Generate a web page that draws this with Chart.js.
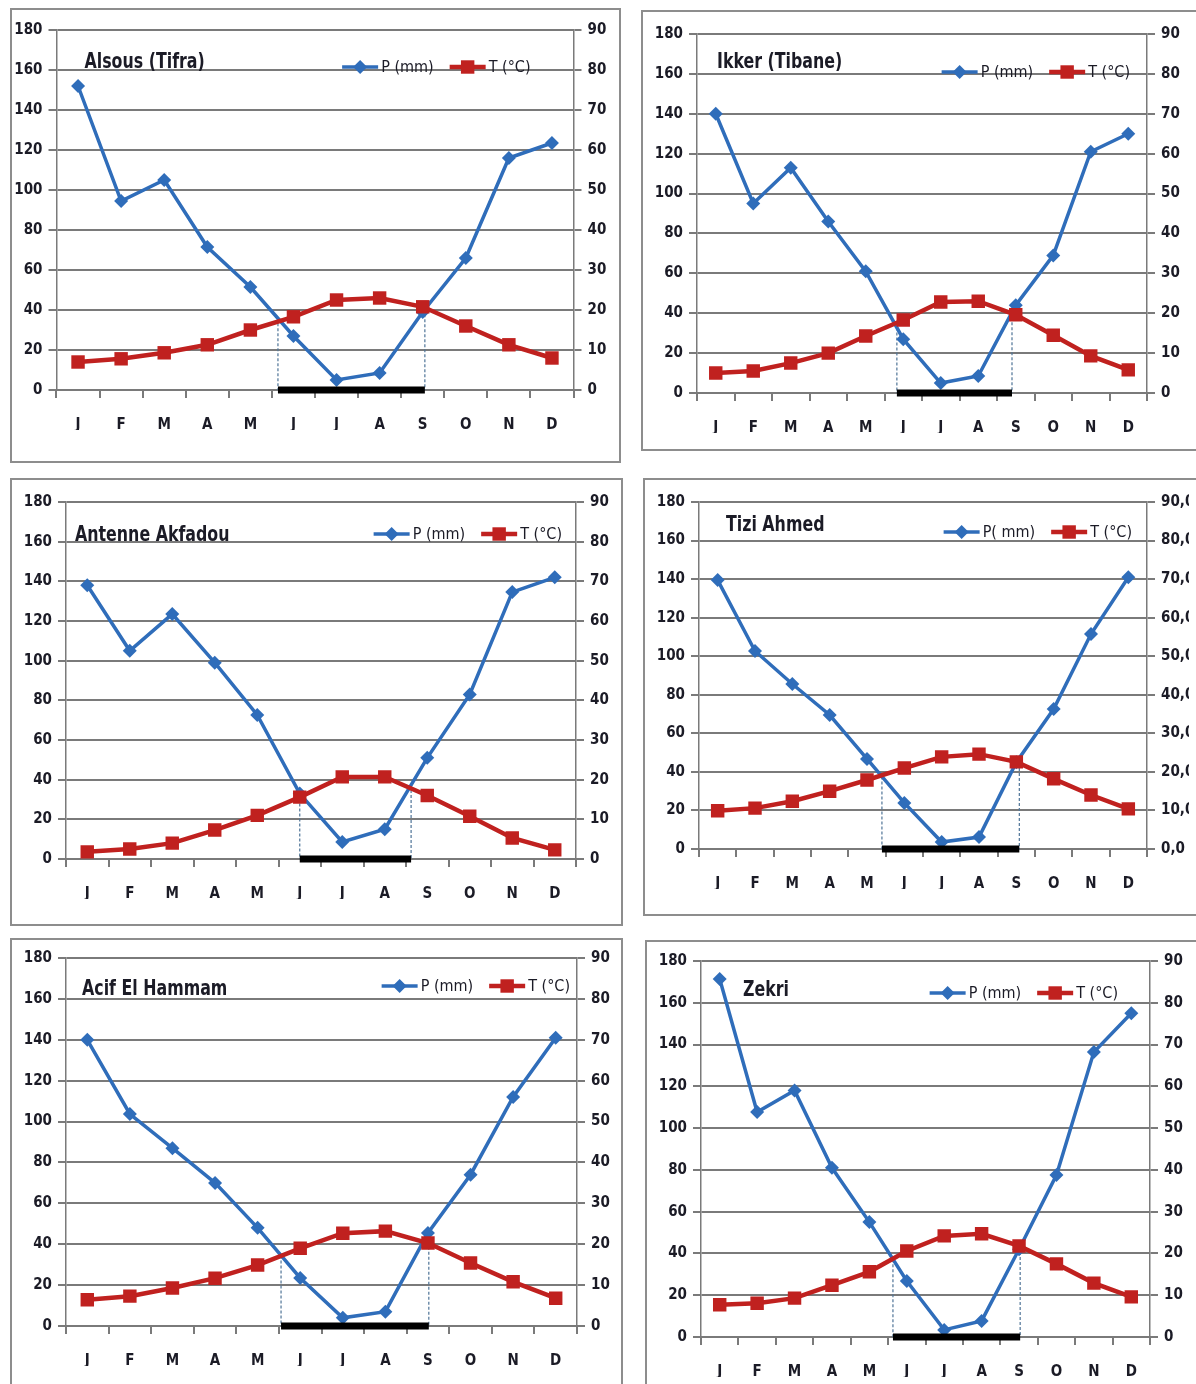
<!DOCTYPE html>
<html>
<head>
<meta charset="utf-8">
<script src="https://cdn.jsdelivr.net/npm/chart.js@4.4.1/dist/chart.umd.min.js"></script>
<style>
  body { margin: 0; background: #fff; width: 1196px; height: 1384px; overflow: hidden; position: relative; }
  .panel { position: absolute; box-sizing: border-box; border: 2px solid #8d8d8d; background: #fff; }
  .panel canvas { display: block; }
</style>
</head>
<body>
<div class="panel" id="panel0"><canvas id="chart0"></canvas></div>
<div class="panel" id="panel1"><canvas id="chart1"></canvas></div>
<div class="panel" id="panel2"><canvas id="chart2"></canvas></div>
<div class="panel" id="panel3"><canvas id="chart3"></canvas></div>
<div class="panel" id="panel4"><canvas id="chart4"></canvas></div>
<div class="panel" id="panel5"><canvas id="chart5"></canvas></div>
<script>
// months and station names
const months = ['J', 'F', 'M', 'A', 'M', 'J', 'J', 'A', 'S', 'O', 'N', 'D'];
const stations = ['Alsous (Tifra)', 'Ikker (Tibane)', 'Antenne Akfadou', 'Tizi Ahmed', 'Acif El Hammam', 'Zekri'];
const p_labels = ['P (mm)', 'P (mm)', 'P (mm)', 'P( mm)', 'P (mm)', 'P (mm)'];
const t_labels = ['T (°C)', 'T (°C)', 'T (°C)', 'T (°C)', 'T (°C)', 'T (°C)'];

// precipitation (mm) and temperature (°C) per station
const p_alsous = [152, 94.5, 105, 71.5, 51.5, 27, 5, 8.5, 39, 66, 116, 123.5];
const t_alsous = [7, 7.8, 9.3, 11.3, 15, 18.3, 22.5, 23, 20.8, 16, 11.3, 8];
const p_ikker = [140, 95, 113, 86, 61, 27, 5, 8.5, 44, 69, 121, 130];
const t_ikker = [5, 5.5, 7.5, 10, 14.3, 18.3, 22.8, 23, 19.6, 14.5, 9.3, 5.8];
const p_akfadou = [138, 105, 123.5, 99, 72.6, 33, 8.6, 15, 51, 83, 134.6, 142];
const t_akfadou = [1.8, 2.5, 4, 7.3, 11, 15.6, 20.7, 20.7, 16, 10.8, 5.3, 2.3];
const p_tizi = [139.5, 102.7, 85.6, 69.5, 46.7, 23.9, 3.6, 6.2, 45, 72.6, 111.5, 141];
const t_tizi = [9.9, 10.6, 12.4, 15, 17.9, 21, 23.9, 24.6, 22.6, 18.2, 14, 10.4];
const p_acif = [140, 103.7, 87, 70, 48, 23.5, 4, 7, 45.5, 74, 112, 141];
const t_acif = [6.4, 7.3, 9.3, 11.7, 14.9, 19, 22.7, 23.2, 20.3, 15.4, 10.8, 6.8];
const p_zekri = [171.4, 107.7, 118, 81, 55, 26.8, 3.4, 7.7, 42, 77.5, 136.4, 155];
const t_zekri = [7.7, 8.1, 9.3, 12.4, 15.6, 20.6, 24.2, 24.7, 21.8, 17.5, 12.9, 9.6];

// dry period, in month index units (J = 0)
const dry_start = [4.64, 4.83, 5.0, 4.4, 4.55, 4.63];
const dry_end = [8.05, 7.9, 7.62, 8.08, 8.02, 8.03];

// axis ranges
const p_max = 180, p_step = 20;
const t_max = 90, t_step = 10;

const p_series = [p_alsous, p_ikker, p_akfadou, p_tizi, p_acif, p_zekri];
const t_series = [t_alsous, t_ikker, t_akfadou, t_tizi, t_acif, t_zekri];
const right_decimals = [0, 0, 0, 1, 0, 0];

// layout: frame [x, y, w, h], plot [left, top, right, bottom] in page px,
// title [dx, dy] from plot top-left, legend [right margin, dy]
const panels = [
  { frame: [10, 8, 611, 455], plot: [56.5, 30, 573.5, 390], title: [28, 32], legend: [43, 37] },
  { frame: [641, 10, 560, 441], plot: [697, 34, 1147, 393], title: [20, 28], legend: [17, 38] },
  { frame: [10, 478, 613, 448], plot: [66, 502, 576, 859], title: [9, 33], legend: [14, 32] },
  { frame: [643, 478, 560, 438], plot: [699, 502, 1147, 849], title: [27, 23], legend: [15, 30] },
  { frame: [10, 938, 613, 460], plot: [66, 958, 577, 1326], title: [16, 31], legend: [7, 28] },
  { frame: [645, 940, 560, 460], plot: [701, 961, 1150, 1337], title: [42, 29], legend: [32, 32] }
];

const FONT = "'DejaVu Sans Condensed', 'Liberation Sans Narrow', sans-serif";
const BLUE = '#2f6dba';
const RED = '#c0211f';
const GRID = '#7a7a7a';
const TEXT = '#1b1b26';
const AXIS_W = 42, AXIS_H = 40;

// value of a monthly series at a fractional month index
const interp = (arr, x) => {
  const i = Math.floor(x), j = Math.min(i + 1, arr.length - 1);
  return arr[i] + (arr[j] - arr[i]) * (x - i);
};

const station_title = {
  id: 'station_title',
  afterDraw(chart, args, opts) {
    const { ctx, chartArea } = chart;
    ctx.save();
    ctx.translate(chartArea.left + opts.dx, chartArea.top + opts.dy);
    ctx.scale(0.8, 1); // narrow, like the Calibri of the original
    ctx.font = 'bold 22px ' + FONT;
    ctx.fillStyle = TEXT;
    ctx.textBaseline = 'middle';
    ctx.textAlign = 'left';
    ctx.fillText(opts.text, 0, 0);
    ctx.restore();
  }
};

// Excel style legend (line + marker) inside the plot area, built from datasets
const inside_legend = {
  id: 'inside_legend',
  afterDraw(chart, args, opts) {
    const { ctx, chartArea } = chart;
    const items = chart.data.datasets.filter(ds => ds.legend_item);
    const line_len = 36, gap_text = 3, gap_item = 16;
    ctx.save();
    ctx.font = '16px ' + FONT;
    const widths = items.map(ds => line_len + gap_text + ctx.measureText(ds.label).width);
    const total = widths.reduce((a, b) => a + b, 0) + gap_item * (items.length - 1);
    let x = chartArea.right - opts.right - total;
    const y = chartArea.top + opts.dy;
    items.forEach((ds, i) => {
      ctx.strokeStyle = ds.borderColor;
      ctx.lineWidth = ds.borderWidth;
      ctx.beginPath();
      ctx.moveTo(x, y);
      ctx.lineTo(x + line_len, y);
      ctx.stroke();
      ctx.fillStyle = ds.borderColor;
      const cx = x + line_len / 2;
      ctx.beginPath();
      if (ds.pointStyle === 'rectRot') {
        const r = ds.pointRadius;
        ctx.moveTo(cx, y - r); ctx.lineTo(cx + r, y); ctx.lineTo(cx, y + r); ctx.lineTo(cx - r, y);
      } else {
        const s = ds.pointRadius * Math.SQRT1_2;
        ctx.rect(cx - s, y - s, 2 * s, 2 * s);
      }
      ctx.closePath();
      ctx.fill();
      ctx.fillStyle = TEXT;
      ctx.textBaseline = 'middle';
      ctx.fillText(ds.label, x + line_len + gap_text, y + 1);
      x += widths[i] + gap_item;
    });
    ctx.restore();
  }
};

const build_chart = (idx) => {
  const cfg = panels[idx];
  const [fx, fy, fw, fh] = cfg.frame;
  const panel = document.getElementById('panel' + idx);
  panel.style.left = fx + 'px';
  panel.style.top = fy + 'px';
  panel.style.width = fw + 'px';
  panel.style.height = fh + 'px';

  const cx = fx + 2, cy = fy + 2, cw = fw - 4, ch = fh - 4;
  const canvas = document.getElementById('chart' + idx);
  canvas.width = cw;
  canvas.height = ch;
  canvas.style.width = cw + 'px';
  canvas.style.height = ch + 'px';

  const [pl, pt, pr, pb] = cfg.plot;
  const padding = {
    left: pl - cx - AXIS_W,
    right: (cx + cw) - pr - AXIS_W,
    top: pt - cy,
    bottom: (cy + ch) - pb - AXIS_H
  };

  const p_data = p_series[idx];
  const t_data = t_series[idx];
  const d0 = dry_start[idx], d1 = dry_end[idx];
  const decimals = right_decimals[idx];

  const tick_font = { family: FONT, size: 15, weight: 'bold' };

  return new Chart(canvas.getContext('2d'), {
    type: 'line',
    data: {
      labels: months,
      datasets: [
        {
          label: p_labels[idx], data: p_data, yAxisID: 'y', xAxisID: 'x',
          borderColor: BLUE, backgroundColor: BLUE, borderWidth: 3.5,
          pointStyle: 'rectRot', pointRadius: 7, pointBorderWidth: 0,
          tension: 0, order: 2, legend_item: true
        },
        {
          label: t_labels[idx], data: t_data, yAxisID: 'y2', xAxisID: 'x',
          borderColor: RED, backgroundColor: RED, borderWidth: 4.5,
          pointStyle: 'rect', pointRadius: 9.5, pointBorderWidth: 0,
          tension: 0, order: 1, legend_item: true
        },
        {
          label: 'dry start', data: [{ x: d0, y: interp(p_data, d0) }, { x: d0, y: 0 }],
          xAxisID: 'xd', yAxisID: 'y', borderColor: '#4f7497', borderWidth: 1.2,
          borderDash: [3, 2], pointRadius: 0, clip: false, order: 3
        },
        {
          label: 'dry end', data: [{ x: d1, y: interp(p_data, d1) }, { x: d1, y: 0 }],
          xAxisID: 'xd', yAxisID: 'y', borderColor: '#4f7497', borderWidth: 1.2,
          borderDash: [3, 2], pointRadius: 0, clip: false, order: 3
        },
        {
          label: 'dry period', data: [{ x: d0, y: 0 }, { x: d1, y: 0 }],
          xAxisID: 'xd', yAxisID: 'y', borderColor: '#000', borderWidth: 7,
          borderCapStyle: 'butt', pointRadius: 0, clip: false, order: 0
        }
      ]
    },
    options: {
      responsive: false,
      animation: false,
      events: [],
      layout: { padding: padding },
      plugins: {
        legend: { display: false },
        tooltip: { enabled: false },
        station_title: { text: stations[idx], dx: cfg.title[0], dy: cfg.title[1] },
        inside_legend: { right: cfg.legend[0], dy: cfg.legend[1] }
      },
      scales: {
        x: {
          type: 'category',
          offset: true,
          afterFit: (scale) => { scale.height = AXIS_H; },
          grid: { offset: true, drawOnChartArea: false, drawTicks: true, tickLength: 8, color: GRID, lineWidth: 2 },
          border: { display: true, color: GRID, width: 2 },
          ticks: { font: tick_font, color: TEXT, padding: 18, maxRotation: 0, autoSkip: false }
        },
        xd: {
          type: 'linear', display: false, min: -0.5, max: 11.5
        },
        y: {
          position: 'left',
          min: 0, max: p_max,
          afterFit: (scale) => { scale.width = AXIS_W; },
          grid: { color: GRID, lineWidth: 2, tickLength: 8 },
          border: { display: true, color: GRID, width: 1.5 },
          ticks: { stepSize: p_step, font: tick_font, color: TEXT, padding: 6 }
        },
        y2: {
          position: 'right',
          min: 0, max: t_max,
          afterFit: (scale) => { scale.width = AXIS_W; },
          grid: { drawOnChartArea: false, color: GRID, lineWidth: 2, tickLength: 8 },
          border: { display: true, color: GRID, width: 1.5 },
          ticks: {
            stepSize: t_step, font: tick_font, color: TEXT, padding: 6,
            callback: (v) => decimals ? v.toFixed(decimals).replace('.', ',') : String(v)
          }
        }
      }
    },
    plugins: [station_title, inside_legend]
  });
};

const charts = panels.map((p, i) => build_chart(i));
</script>
</body>
</html>
